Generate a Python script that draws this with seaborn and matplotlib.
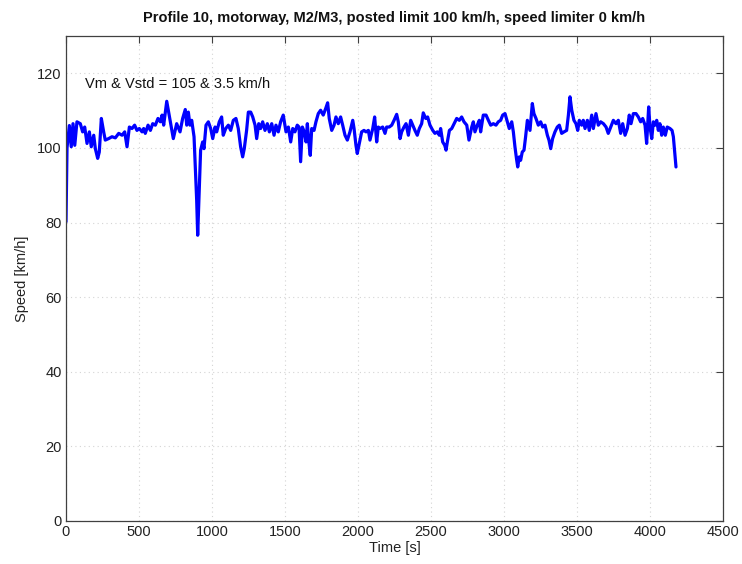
import matplotlib
matplotlib.use("Agg")
import matplotlib.pyplot as plt
import seaborn as sns
import pandas as pd

# Speed profile samples: time [s] and speed [km/h]
time_s = [
    0, 7, 23, 36, 48, 60, 75, 98, 114, 128, 144, 160, 173, 190, 201, 217, 228,
    242, 258, 269, 292, 315, 338, 361, 384, 402, 418, 434, 452, 470, 486, 502,
    521, 532, 543, 562, 578, 594, 612, 630, 646, 658, 669, 690,
    735, 758, 781, 799, 817, 827, 838, 849, 861, 877, 895, 902, 913, 922, 936,
    945, 959, 975, 991, 1005, 1021, 1032, 1050, 1066, 1077, 1094, 1112, 1128,
    1146, 1164, 1180, 1196, 1210, 1221, 1237, 1249, 1265, 1279, 1295, 1306,
    1320, 1333, 1347, 1363, 1379, 1393, 1409, 1425, 1438, 1454, 1470, 1488,
    1507, 1523,
    1539, 1553, 1568, 1584, 1596, 1607, 1619, 1632, 1644, 1653, 1662, 1673,
    1683, 1699, 1712, 1728, 1744, 1762, 1779, 1792, 1803, 1820, 1836, 1849,
    1865, 1881, 1895, 1911, 1927, 1945, 1964, 1973, 1986, 1995, 2009, 2025,
    2041, 2055, 2071, 2082, 2101, 2114, 2128, 2139, 2151, 2169, 2185, 2196,
    2214, 2231, 2247, 2265, 2276, 2288, 2299, 2315, 2329, 2345, 2361, 2375,
    2390, 2406, 2420, 2436, 2447, 2464, 2477, 2493, 2512, 2527, 2543, 2557,
    2566, 2580, 2594, 2603, 2612, 2626, 2642, 2658, 2676, 2694, 2710, 2726,
    2745, 2760, 2779, 2790, 2801, 2817, 2831, 2840, 2858, 2877, 2893, 2909,
    2927, 2945, 2961, 2977, 2991, 3007, 3023,
    3036, 3053, 3064, 3075, 3087, 3094, 3105, 3114, 3125, 3137, 3148, 3160,
    3178, 3194, 3205, 3219, 3235, 3251, 3265, 3281, 3297, 3308, 3320, 3333,
    3349, 3365, 3379, 3395, 3411, 3429, 3441, 3452, 3464, 3479, 3493, 3505,
    3516, 3532, 3543, 3555, 3571, 3584, 3601, 3612, 3630, 3646, 3662, 3681,
    3699, 3714, 3731, 3749, 3767, 3783, 3799, 3813, 3829, 3845, 3858, 3870,
    3886, 3904, 3920, 3936, 3950, 3966, 3977, 3991, 4000, 4012, 4023, 4034,
    4046, 4057, 4068, 4080, 4091, 4105, 4118, 4137, 4151, 4160, 4178,
]
speed_kmh = [
    80.2, 100.0, 106.0, 100.3, 106.5, 100.7, 107.0, 106.5, 104.3, 105.6, 101.2,
    104.3, 100.3, 103.4, 99.8, 97.2, 98.9, 107.9, 104.3, 102.1, 102.5, 103.0,
    102.7, 103.9, 103.4, 104.3, 100.3, 105.6, 105.2, 106.1, 104.7, 105.2, 104.3,
    105.2, 103.9, 106.1, 104.7, 106.5, 106.1, 107.9, 107.0, 108.8, 106.1, 112.5,
    102.5, 106.5, 104.3, 107.9, 110.3, 106.1, 109.6, 106.1, 107.4, 103.0, 86.0,
    76.6, 89.6, 99.4, 101.6, 99.8, 106.1, 107.0, 105.2, 102.5, 105.6, 104.3,
    107.0, 108.3, 103.4, 105.2, 106.1, 104.7, 107.4, 107.9, 105.2, 100.3, 97.6,
    99.8, 104.7, 109.6, 109.6, 108.3, 106.1, 102.5, 106.5, 105.2, 107.0, 104.7,
    106.5, 104.3, 106.5, 103.4, 106.1, 104.3, 107.0, 108.8, 104.3, 105.6,
    101.6, 105.2, 104.3, 106.1, 105.6, 96.3, 105.6, 104.3, 101.6, 106.5, 102.1,
    98.0, 105.2, 104.7, 107.0, 109.2, 110.1, 108.8, 110.6, 112.1, 107.9, 104.7,
    106.1, 108.3, 106.5, 108.3, 106.1, 103.4, 102.1, 104.3, 107.4, 105.2, 100.7,
    98.5, 101.2, 104.3, 104.7, 104.3, 104.7, 102.1, 105.2, 108.3, 101.6, 105.6,
    105.2, 105.6, 103.9, 105.6, 105.6, 106.1, 107.4, 109.0, 107.0, 102.5, 104.3,
    105.6, 106.5, 103.4, 107.4, 106.1, 104.7, 103.4, 105.2, 106.5, 109.4, 107.9,
    108.3, 106.1, 104.7, 103.9, 104.3, 103.4, 105.2, 101.6, 100.7, 99.4, 101.6,
    104.7, 105.2, 106.5, 107.9, 107.4, 108.3, 107.0, 106.1, 102.1, 105.6, 107.0,
    104.3, 106.1, 107.4, 104.3, 108.8, 108.8, 107.4, 106.1, 106.5, 106.1, 107.0,
    107.4, 108.8, 109.2, 107.0,
    105.2, 107.0, 104.3, 100.3, 96.7, 94.9, 97.6, 96.7, 98.9, 99.4, 103.0, 107.4,
    104.7, 111.9, 109.2, 107.9, 106.1, 107.0, 105.6, 106.1, 103.4, 102.1, 99.8,
    102.5, 104.3, 105.6, 106.1, 103.9, 104.3, 104.7, 108.8, 113.7, 110.1, 107.4,
    106.5, 104.7, 107.4, 106.1, 107.4, 105.2, 107.4, 104.7, 108.8, 105.2, 109.2,
    106.1, 107.0, 106.5, 105.6, 103.9, 105.6, 107.4, 106.5, 107.4, 103.9, 106.5,
    103.4, 105.2, 108.8, 106.5, 109.2, 109.2, 108.3, 107.0, 107.9, 106.1, 101.2,
    111.0, 105.6, 102.5, 107.0, 106.1, 107.4, 104.7, 106.5, 103.4, 105.6, 103.4,
    105.6, 105.2, 104.7, 103.0, 94.9,
]

x_ticks = [0, 500, 1000, 1500, 2000, 2500, 3000, 3500, 4000, 4500]
y_ticks = [0, 20, 40, 60, 80, 100, 120]

title_text = "Profile 10, motorway, M2/M3, posted limit 100 km/h, speed limiter 0 km/h"
stats_text = "Vm & Vstd = 105 & 3.5 km/h"

df = pd.DataFrame({"Time [s]": time_s, "Speed [km/h]": speed_kmh})

sns.set_style("white")
plt.rcParams["font.family"] = ["Liberation Sans", "DejaVu Sans"]

fig = plt.figure(figsize=(7.42, 5.64), dpi=100)
ax = fig.add_axes([66 / 742, 43 / 564, 657 / 742, 485 / 564])

sns.lineplot(data=df, x="Time [s]", y="Speed [km/h]", ax=ax,
             color="#0000ff", linewidth=2.3, estimator=None, sort=False)

ax.set_xlim(0, 4500)
ax.set_ylim(0, 130)
ax.set_xticks(x_ticks)
ax.set_yticks(y_ticks)
ax.grid(True, linestyle=(0, (1, 3)), color="#d4d4d4", linewidth=0.8)
ax.set_axisbelow(True)

for s in ax.spines.values():
    s.set_color("#404040")
    s.set_linewidth(0.9)
ax.tick_params(direction="in", length=5, width=0.8, color="#404040",
               top=True, right=True, labelsize=10.5, labelcolor="#222222", pad=3)

ax.set_xlabel("Time [s]", fontsize=10.5, color="#222222", labelpad=1)
ax.set_ylabel("Speed [km/h]", fontsize=10.5, color="#222222", labelpad=6)
ax.set_title(title_text, fontsize=10.5, fontweight="bold", color="#111111", pad=10)

ax.text(130, 117, stats_text, fontsize=10.5, color="#111111", va="center", ha="left")

fig.savefig("out.png", dpi=100)
